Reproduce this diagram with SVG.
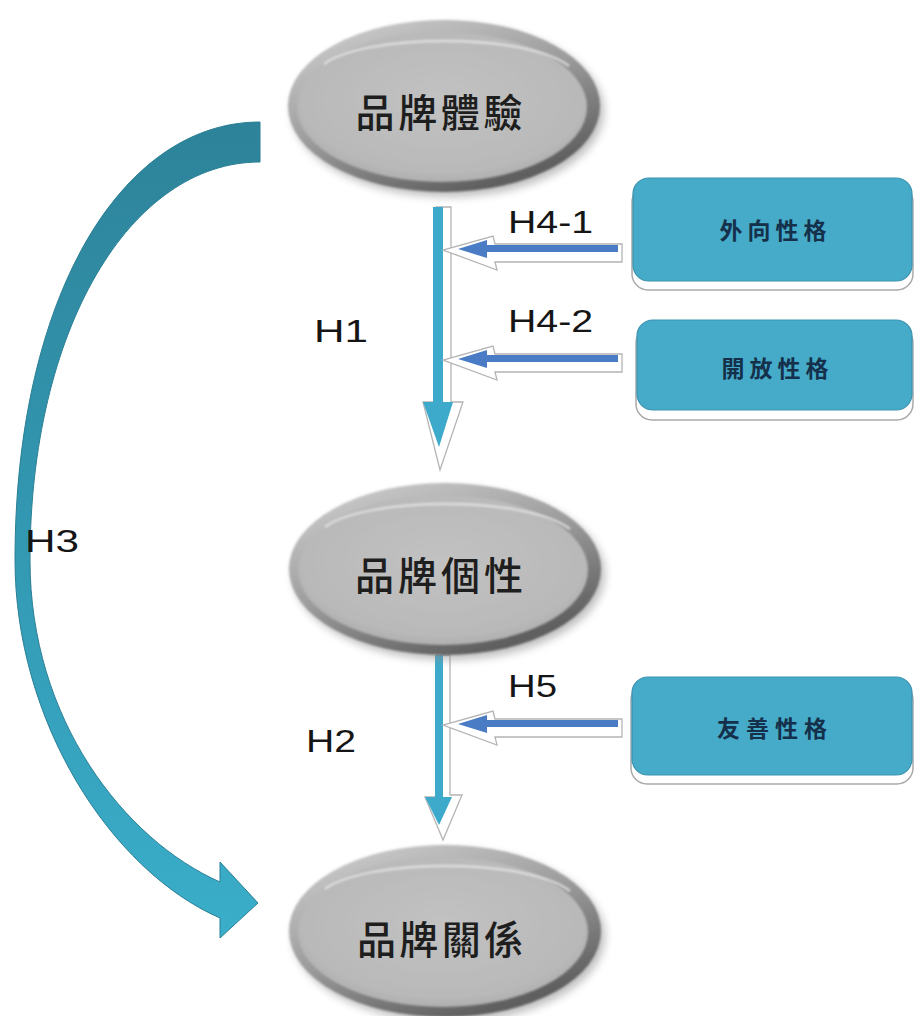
<svg xmlns="http://www.w3.org/2000/svg" width="915" height="1016" viewBox="0 0 915 1016">
  <defs>
    <style>
      .lbl { font-family: "Liberation Sans", Arial, sans-serif; font-size: 32px; fill: #151515; }
      .node-txt { font-family: "Noto Sans CJK TC", "Noto Sans CJK SC", sans-serif; font-size: 39px; font-weight: 500; fill: #1e1e1e; text-anchor: middle; }
      .box-txt { font-family: "Noto Sans CJK TC", "Noto Sans CJK SC", sans-serif; font-size: 23px; font-weight: 700; fill: #14304a; text-anchor: middle; }
      .box { fill: #46aac9; stroke: #3a93ae; stroke-width: 1.2; }
      .box-back { fill: #ffffff; stroke: #a9a9a9; stroke-width: 1.5; }
      .v-shaft { fill: #3eaacb; }
      .h-arrow { fill: #4a7bc5; }
      .arrow-back { fill: #ffffff; stroke: #b4b4b4; stroke-width: 1.3; }
    </style>
    <linearGradient id="rim" x1="0" y1="0" x2="0.6" y2="1">
      <stop offset="0" stop-color="#d4d4d4"/>
      <stop offset="0.55" stop-color="#9c9c9c"/>
      <stop offset="1" stop-color="#5e5e5e"/>
    </linearGradient>
    <radialGradient id="face" cx="0.5" cy="0.45" r="0.6">
      <stop offset="0" stop-color="#c2c2c2"/>
      <stop offset="0.8" stop-color="#b9b9b9"/>
      <stop offset="1" stop-color="#a9a9a9"/>
    </radialGradient>
    <linearGradient id="curve" x1="0" y1="120" x2="0" y2="940" gradientUnits="userSpaceOnUse">
      <stop offset="0" stop-color="#2d8399"/>
      <stop offset="0.5" stop-color="#3398b2"/>
      <stop offset="1" stop-color="#3aaeca"/>
    </linearGradient>
    <filter id="soft" x="-20%" y="-20%" width="140%" height="140%">
      <feGaussianBlur stdDeviation="4"/>
    </filter>
    <filter id="blur1" x="-10%" y="-10%" width="120%" height="120%">
      <feGaussianBlur stdDeviation="1.2"/>
    </filter>

    <!-- oval node: shadow, bevel rim, face, top highlight -->
    <g id="oval">
      <ellipse cx="4" cy="5" rx="156" ry="86" fill="#8a8a8a" opacity="0.55" filter="url(#soft)"/>
      <ellipse cx="0" cy="0" rx="156" ry="86" fill="url(#rim)" filter="url(#blur1)"/>
      <ellipse cx="-2" cy="1" rx="145" ry="75" fill="url(#face)" filter="url(#blur1)"/>
      <path d="M-120,-42 C-80,-72 80,-74 125,-40" fill="none" stroke="#e6e6e6" stroke-width="2.5" opacity="0.8" filter="url(#blur1)"/>
    </g>

    <!-- horizontal moderator arrow, pointing left -->
    <g id="harrow">
      <polygon class="arrow-back" points="622,244 622,262 495,262 497,270 443,250 493,236 495,244"/>
      <polygon class="h-arrow" points="618,245 487,245 487,240 458,249 487,258 487,252 618,252"/>
    </g>
  </defs>

  <!-- curved path from brand experience to brand relationship -->
  <g id="connectors">
    <path id="h3-curve" d="M260,122 C120,122 15,300 15,560 C15,720 110,870 220,918 L220,938 L258,903 L220,862 L220,882 C125,840 30,720 30,560 C30,330 130,162 260,162 Z" fill="url(#curve)" stroke="#2b7f95" stroke-width="1"/>

    <!-- H1 vertical arrow -->
    <polygon class="arrow-back" points="436,207 451,207 451,402 463,402 440,470 423,402 436,402"/>
    <polygon class="v-shaft" points="433,207 443,207 443,402 453,402 439,447 423,402 433,402"/>

    <!-- H2 vertical arrow -->
    <polygon class="arrow-back" points="437,655 450,655 450,795 462,795 443,840 425,797 437,797"/>
    <polygon class="v-shaft" points="435,655 443,655 443,797 452,797 439,825 425,797 435,797"/>

    <!-- moderator arrows -->
    <use href="#harrow"/>
    <use href="#harrow" transform="translate(0,110)"/>
    <use href="#harrow" transform="translate(0,475)"/>
  </g>

  <!-- path labels -->
  <g id="labels">
    <text class="lbl" x="508" y="233" textLength="85" lengthAdjust="spacingAndGlyphs">H4-1</text>
    <text class="lbl" x="508" y="332" textLength="85" lengthAdjust="spacingAndGlyphs">H4-2</text>
    <text class="lbl" x="314" y="342" textLength="54" lengthAdjust="spacingAndGlyphs">H1</text>
    <text class="lbl" x="25" y="552" textLength="54" lengthAdjust="spacingAndGlyphs">H3</text>
    <text class="lbl" x="508" y="697" textLength="49" lengthAdjust="spacingAndGlyphs">H5</text>
    <text class="lbl" x="306" y="752" textLength="50" lengthAdjust="spacingAndGlyphs">H2</text>
  </g>

  <!-- oval nodes -->
  <g id="node-experience" transform="translate(444,106)">
    <use href="#oval"/>
    <text class="node-txt" x="-5" y="21" textLength="167" lengthAdjust="spacing">品牌體驗</text>
  </g>
  <g id="node-personality" transform="translate(445,569)">
    <use href="#oval"/>
    <text class="node-txt" x="-6" y="21" textLength="168" lengthAdjust="spacing">品牌個性</text>
  </g>
  <g id="node-relationship" transform="translate(445,931)">
    <use href="#oval"/>
    <text class="node-txt" x="-5" y="23" textLength="166" lengthAdjust="spacing">品牌關係</text>
  </g>

  <!-- trait boxes -->
  <g id="box-extraversion">
    <rect class="box-back" x="632" y="186" width="281" height="104" rx="16"/>
    <rect class="box" x="633" y="178" width="279" height="103" rx="16"/>
    <text class="box-txt" x="773" y="239" textLength="107" lengthAdjust="spacing">外向性格</text>
  </g>
  <g id="box-openness">
    <rect class="box-back" x="636" y="327" width="277" height="93" rx="16"/>
    <rect class="box" x="637" y="320" width="275" height="90" rx="16"/>
    <text class="box-txt" x="775" y="377" textLength="107" lengthAdjust="spacing">開放性格</text>
  </g>
  <g id="box-agreeableness">
    <rect class="box-back" x="631" y="684" width="282" height="100" rx="16"/>
    <rect class="box" x="632" y="677" width="280" height="98" rx="16"/>
    <text class="box-txt" x="772" y="737" textLength="110" lengthAdjust="spacing">友善性格</text>
  </g>
</svg>
